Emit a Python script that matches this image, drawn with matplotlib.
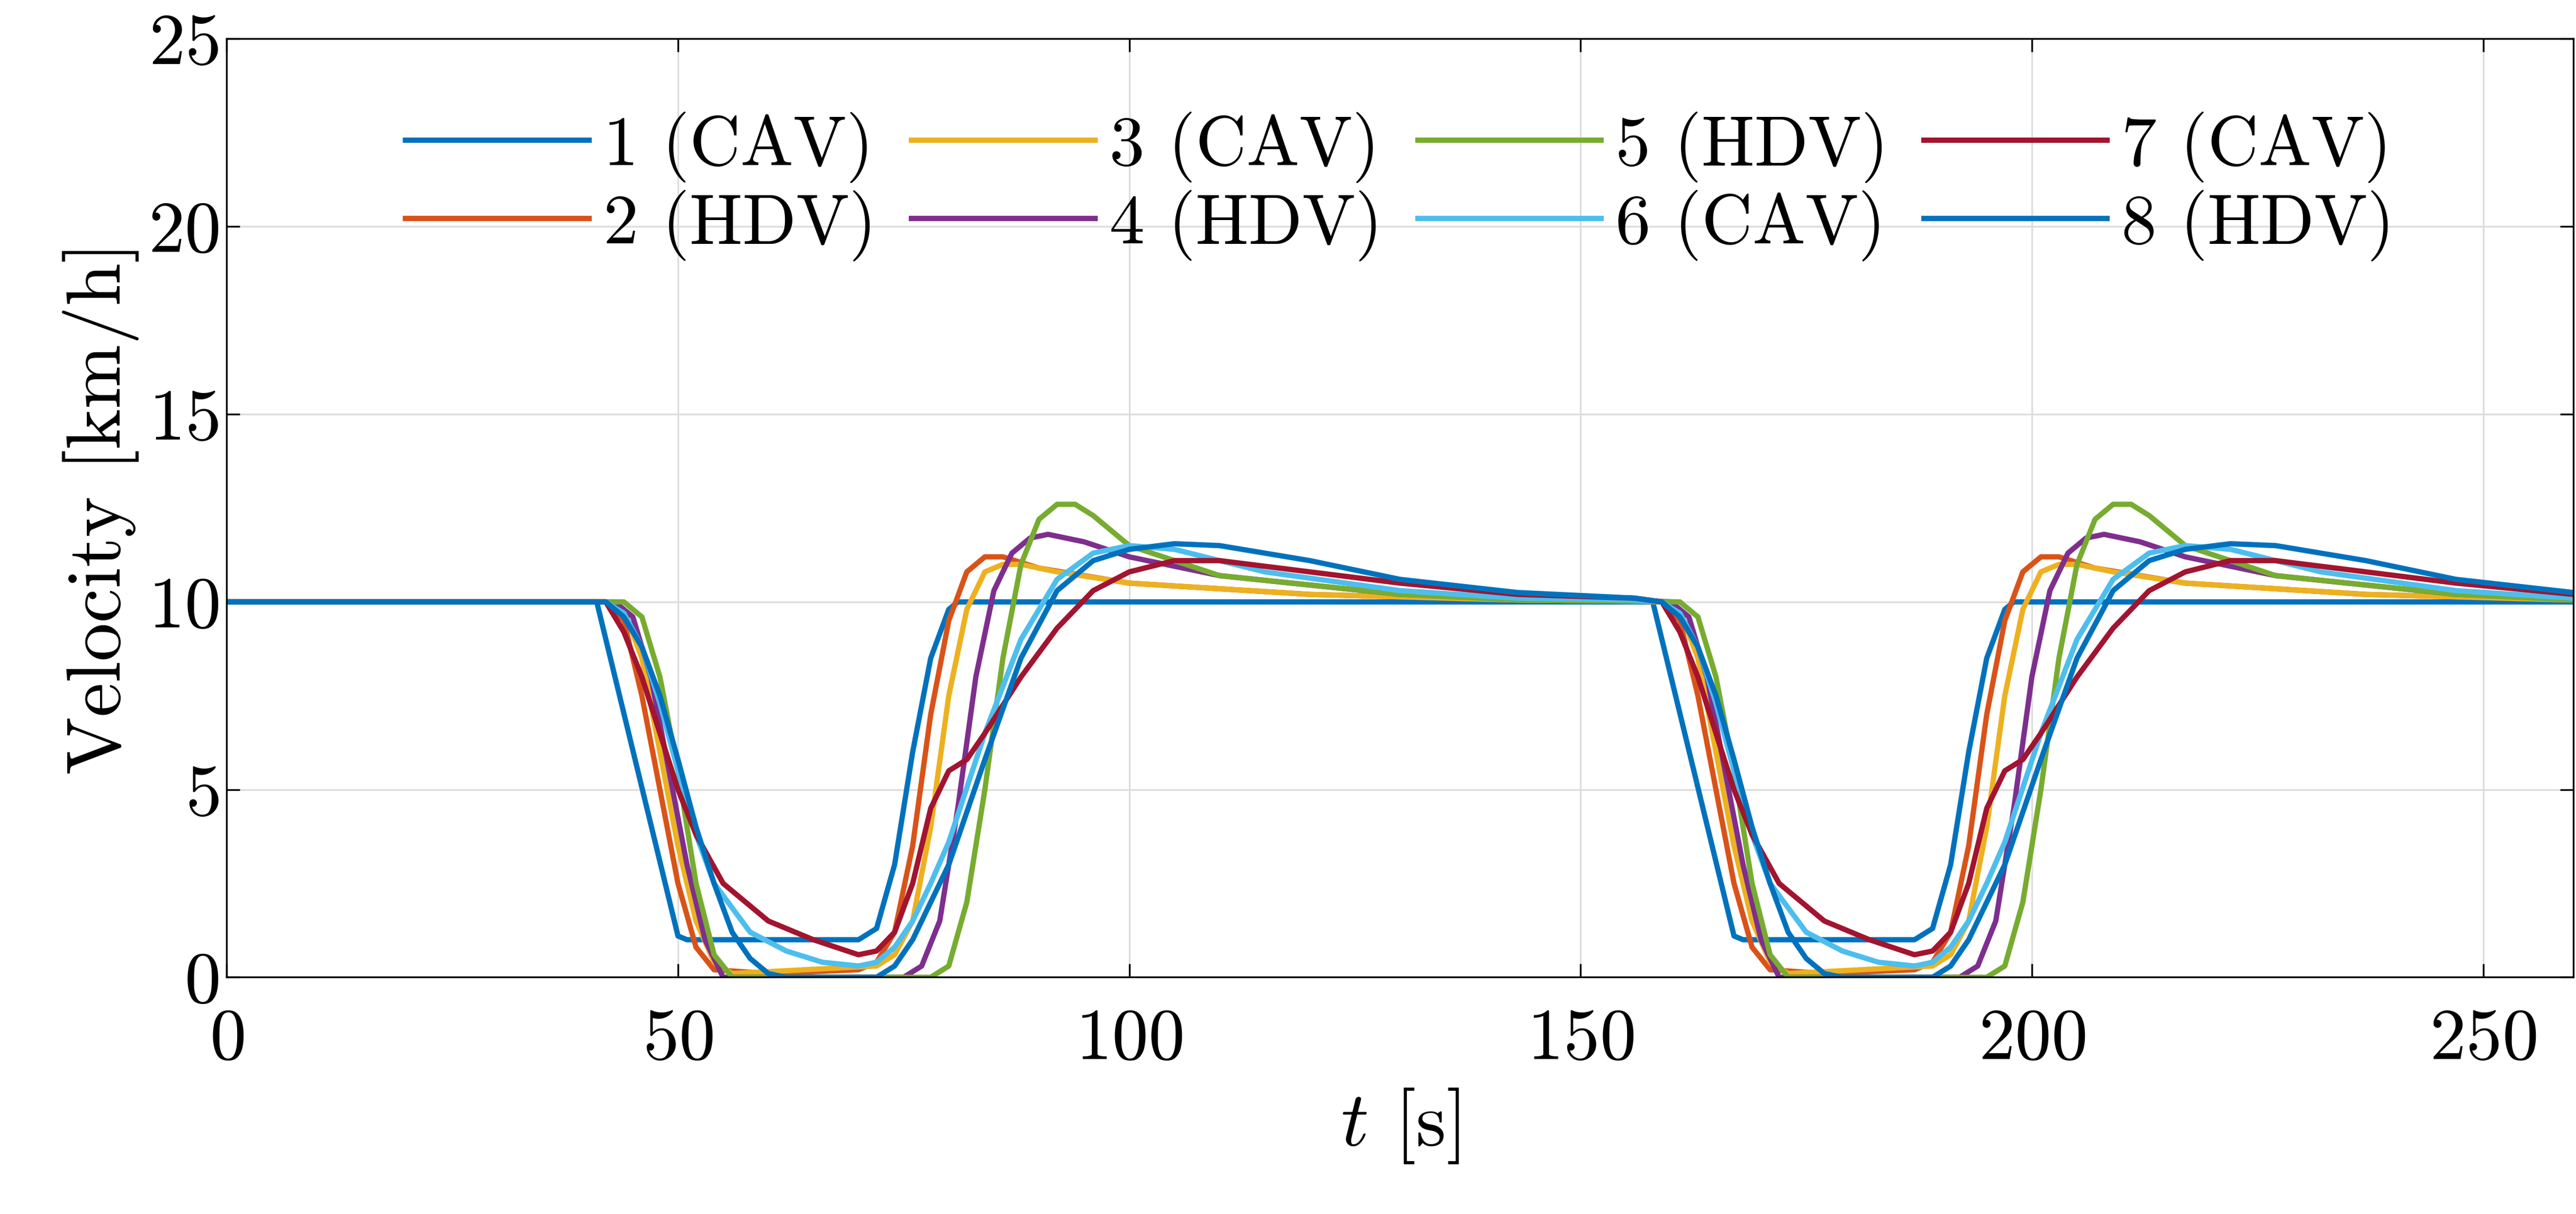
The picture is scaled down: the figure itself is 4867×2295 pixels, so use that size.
import numpy as np
import matplotlib
matplotlib.use("Agg")
import matplotlib.pyplot as plt

plt.rcParams['font.family'] = ['cmr10']
plt.rcParams['mathtext.fontset'] = 'cm'
plt.rcParams['axes.formatter.use_mathtext'] = True

period = 117
labels = ['1 (CAV)', '2 (HDV)', '3 (CAV)', '4 (HDV)', '5 (HDV)', '6 (CAV)', '7 (CAV)', '8 (HDV)']
colors = ['#0072BD', '#D95319', '#EDB120', '#7E2F8E', '#77AC30', '#4DBEEE', '#A2142F', '#0072BD']

t1 = [0,41,50,51,70,72,74,76,78,80,81,82,143,156]
v1 = [10,10,1.1,1,1,1.3,3,6,8.5,9.8,10,10,10,10]
t2 = [0,42,44,46,48,50,52,54,60,70,72,74,76,78,80,82,84,86,90,100,120,143,156]
v2 = [10,10,9.5,7.5,5,2.5,0.8,0.2,0.1,0.2,0.4,1.2,3.5,7,9.5,10.8,11.2,11.2,10.9,10.5,10.2,10.05,10.02]
t3 = [0,42,44,46,48,50,52,54,56,72,74,76,78,80,82,84,86,88,92,100,120,143,156]
v3 = [10,10,9.8,8.5,6,3.5,1.5,0.4,0.1,0.3,0.6,1.5,4,7.5,9.8,10.8,11.0,11.0,10.8,10.5,10.2,10.05,10.02]
t4 = [0,43,45,47,49,51,53,55,75,77,79,81,83,85,87,89,91,95,100,110,130,143,156]
v4 = [10,10,9.6,8,5.5,3,1,0,0,0.3,1.5,4.5,8,10.3,11.3,11.7,11.8,11.6,11.2,10.7,10.2,10.1,10.05]
t5 = [0,44,46,48,50,52,54,56,78,80,82,84,86,88,90,92,94,96,100,110,130,143,156]
v5 = [10,10,9.6,8,5.5,2.5,0.6,0,0,0.3,2,5,8.5,11,12.2,12.6,12.6,12.3,11.5,10.7,10.2,10.05,10.02]
t6 = [0,42,44,46,48,50,52,54,58,62,66,70,72,74,76,78,80,84,88,92,96,100,105,115,130,143,156]
v6 = [10,10,9.7,8.8,7.3,5.5,3.8,2.5,1.2,0.7,0.4,0.3,0.4,0.8,1.5,2.5,3.6,6.5,9,10.6,11.3,11.5,11.4,10.8,10.3,10.1,10.05]
t7 = [0,42,44,46,48,50,52,55,60,65,70,72,74,76,78,80,82,84,88,92,96,100,105,110,120,130,143,156]
v7 = [10,10,9.2,8,6.5,5,3.8,2.5,1.5,1.0,0.6,0.7,1.2,2.5,4.5,5.5,5.8,6.5,8,9.3,10.3,10.8,11.1,11.1,10.8,10.5,10.2,10.1]
t8 = [0,42,44,46,48,50,52,54,56,58,60,62,72,74,76,78,80,84,88,92,96,100,105,110,120,130,143,156]
v8 = [10,10,9.6,8.8,7.5,5.8,4,2.5,1.2,0.5,0.1,0,0,0.3,1,2,3,5.8,8.5,10.3,11.1,11.4,11.55,11.5,11.1,10.6,10.25,10.1]

ts = [t1,t2,t3,t4,t5,t6,t7,t8]
vs = [v1,v2,v3,v4,v5,v6,v7,v8]

fig = plt.figure(figsize=(4867/300, 2295/300), dpi=300)
ax = fig.add_axes([0.088, 0.195, 0.911, 0.773])
for t, v, c, l in zip(ts, vs, colors, labels):
    t = np.array(t, float); v = np.array(v, float)
    # second cycle starts at the brake onset (index 1)
    tt = np.concatenate([t, t[1:] + period])
    vv = np.concatenate([v, v[1:]])
    m = tt <= 260
    ax.plot(tt[m], vv[m], color=c, lw=2.4, label=l)

ax.set_xlim(0, 260)
ax.set_ylim(0, 25)
ax.set_xticks([0,50,100,150,200,250])
ax.set_yticks([0,5,10,15,20,25])
ax.grid(True, color='#dddddd', lw=0.8)
ax.tick_params(direction='in', top=True, right=True, labelsize=33, length=6)
ax.tick_params(axis='x', pad=14)
for s in ax.spines.values():
    s.set_linewidth(0.8)
ax.set_xlabel(r'$t$ [s]', fontsize=35, labelpad=6)
ax.set_ylabel('Velocity [km/h]', fontsize=35)
ax.legend(ncol=4, loc='upper center', frameon=False, fontsize=32,
          handlelength=2.6, columnspacing=0.5, handletextpad=0.2,
          labelspacing=0.1, bbox_to_anchor=(0.5, 0.99))
fig.savefig('out.png', dpi=300)
